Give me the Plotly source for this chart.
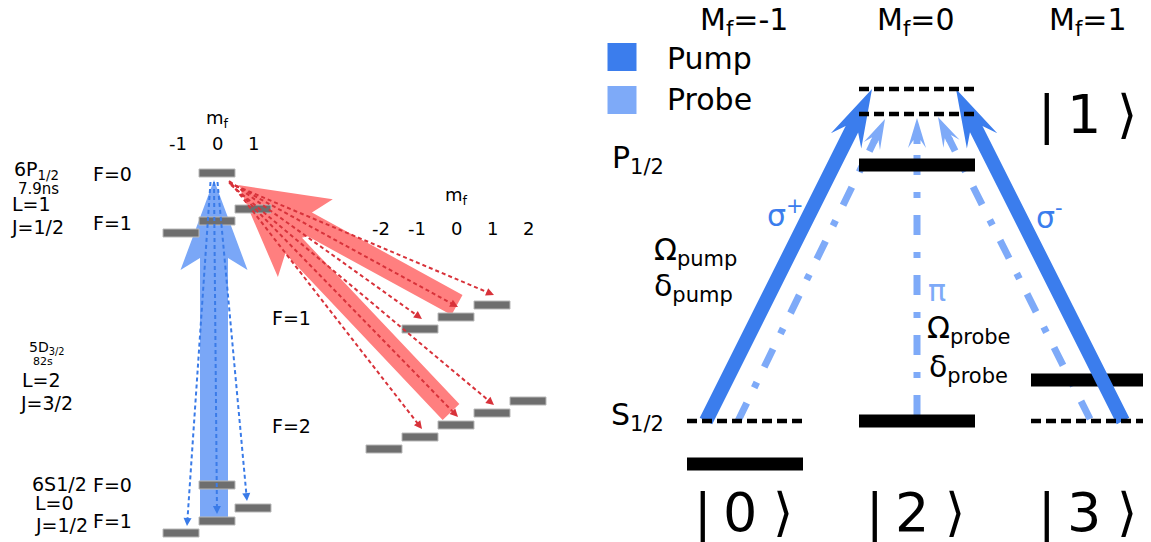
import math
import plotly.graph_objects as go

W, H = 1151, 542
PAD = 8  # default page body margin of the html page
FONT = "DejaVu Sans"

# ---------------- data: left panel (hyperfine levels: m_F and level height) -------------
P_F0_m = [0];            P_F0_y = [173]
P_F1_m = [-1, 0, 1];     P_F1_y = [233, 221, 209]
S_F0_m = [0];            S_F0_y = [485]
S_F1_m = [-1, 0, 1];     S_F1_y = [533, 521, 508]
D_F1_m = [-1, 0, 1];     D_F1_y = [329, 317, 305]
D_F2_m = [-2, -1, 0, 1, 2]; D_F2_y = [449, 437, 425, 413, 401]
mf_ticks_PS = ["-1", "0", "1"]
mf_ticks_D = ["-2", "-1", "0", "1", "2"]
decay_targets_m = [-1, 0, 1]

# ---------------- data: right panel -------------
col_labels = ["M<sub>f</sub>=-1", "M<sub>f</sub>=0", "M<sub>f</sub>=1"]
ket_labels = ["0", "2", "3"]
state_col = [0, 1, 2]          # |0>, |2>, |3>
state_y = [464, 421, 380]
P_bar_y = 165
S_virtual_y = 421
top_virtual_y = [89, 114]
# transitions: (from col, from y, to col, to y, x offset at tail, x offset at tip)
pump_trans = [(0, 421, 1, 89, -39, -45), (2, 421, 1, 89, 34, 39)]
probe_trans = [(0, 421, 1, 119, -7, -32), (1, 415, 1, 118, 0, 0), (2, 419, 1, 117, 1, 21)]

# ---------------- styles / layout constants -------------
X0_PS, X0_D, DM = 217, 456, 36
COLX = [745, 917, 1089]
GRAY = "#6e6e6e"
RED_FILL = "#ff7f7f"
RED_DASH = "#d8323a"
BLUE_FILL = "#7aa7f7"
BLUE_DASH = "#3a7be8"
PUMP = "#3b7ded"
PROBE = "#7eaaf8"

fig = go.Figure()


def poly(pts, color, line_color=None, lw=0):
    xs = [p[0] for p in pts] + [pts[0][0]]
    ys = [p[1] for p in pts] + [pts[0][1]]
    fig.add_trace(go.Scatter(x=xs, y=ys, mode="lines", fill="toself", fillcolor=color,
                             line=dict(width=lw, color=line_color or color), hoverinfo="skip"))


def arrow_pts(x0, y0, x1, y1, shw, hl, hhw, notch):
    L = math.hypot(x1 - x0, y1 - y0)
    ux, uy = (x1 - x0) / L, (y1 - y0) / L
    nx, ny = -uy, ux
    def P(a, p):  # a: distance back from tip, p: perpendicular
        return (x1 - ux * a + nx * p, y1 - uy * a + ny * p)
    return [P(L, shw), P(notch, shw), P(hl, hhw), (x1, y1), P(hl, -hhw), P(notch, -shw), P(L, -shw)]


def dashed_arrow(x0, y0, x1, y1, color, width, dash, hl, hhw, notch=None):
    L = math.hypot(x1 - x0, y1 - y0)
    ux, uy = (x1 - x0) / L, (y1 - y0) / L
    nx, ny = -uy, ux
    bx, by = x1 - ux * hl * 0.8, y1 - uy * hl * 0.8
    fig.add_trace(go.Scatter(x=[x0, bx], y=[y0, by], mode="lines",
                             line=dict(color=color, width=width, dash=dash), hoverinfo="skip"))
    if notch is None:
        pts = [(x1, y1), (x1 - ux * hl + nx * hhw, y1 - uy * hl + ny * hhw),
               (x1 - ux * hl - nx * hhw, y1 - uy * hl - ny * hhw)]
    else:
        sw = width / 2
        def P(a, p):
            return (x1 - ux * a + nx * p, y1 - uy * a + ny * p)
        pts = [P(notch + 4, sw), P(notch, sw), P(hl, hhw), (x1, y1), P(hl, -hhw), P(notch, -sw), P(notch + 4, -sw)]
    poly(pts, color)


def bar(xc, yc, w, h, color, edge=None):
    poly([(xc - w / 2, yc - h / 2), (xc + w / 2, yc - h / 2), (xc + w / 2, yc + h / 2), (xc - w / 2, yc + h / 2)],
         color, line_color=edge, lw=1 if edge else 0)


def hline(x0, x1, y, color, width, dash="solid"):
    fig.add_trace(go.Scatter(x=[x0, x1], y=[y, y], mode="lines",
                             line=dict(color=color, width=width, dash=dash), hoverinfo="skip"))


ann = []


def txt(x, y, s, size, color="black", xanchor="left"):
    ann.append(dict(x=x, y=y, text=s, showarrow=False, xanchor=xanchor, yanchor="middle",
                    font=dict(family=FONT, size=size, color=color)))


# ================= LEFT PANEL =================
px = lambda m: X0_PS + DM * m
dx = lambda m: X0_D + DM * m

d1 = dict(zip(D_F1_m, D_F1_y)); d2 = dict(zip(D_F2_m, D_F2_y))
poly(arrow_pts(dx(0) + 1, d1[0] - 12, 238, 185, 11.5, 90, 33, 78), RED_FILL)
poly(arrow_pts(dx(0) - 5, d2[0] - 13, 240, 189, 11.5, 90, 33, 78), RED_FILL)
s1 = dict(zip(S_F1_m, S_F1_y))
poly(arrow_pts(px(0) - 3, s1[0] - 1, px(0) - 3, 180, 14, 90, 33.5, 78), BLUE_FILL)

for ms, ys, xf in [(P_F0_m, P_F0_y, px), (P_F1_m, P_F1_y, px), (S_F0_m, S_F0_y, px),
                   (S_F1_m, S_F1_y, px), (D_F1_m, D_F1_y, dx), (D_F2_m, D_F2_y, dx)]:
    for m, y in zip(ms, ys):
        bar(xf(m), y, DM, 8, GRAY, edge="#b8b8b8")

for m in decay_targets_m:
    dashed_arrow(px(0) - 3 + 3.5 * m, 182, px(m) - 6 * m, s1[m] - 7, BLUE_DASH, 2, "4px,3px", 8, 4)
for m in decay_targets_m:
    dashed_arrow(229, 182 + m, dx(m) + 2, d1[m] - 10, RED_DASH, 2, "4px,3px", 8, 4)
    dashed_arrow(231, 184 + m, dx(m) + 2, d2[m] - 8, RED_DASH, 2, "4px,3px", 8, 4)

LS = 19
txt(px(0), 119, "m<sub>f</sub>", 18, xanchor="center")
for m, t in zip([-1, 0, 1], mf_ticks_PS):
    txt(px(m) - (3 if m == -1 else 0), 143, t, 18, xanchor="center")
txt(dx(0), 196, "m<sub>f</sub>", 18, xanchor="center")
for m, t in zip(D_F2_m, mf_ticks_D):
    txt(dx(m) - 3 * (m < 0), 228, t, 18, xanchor="center")
txt(12, 170, "6P<sub>1/2</sub>", LS)
txt(16, 189, "7.9ns", 15)
txt(10, 204, "L=1", LS)
txt(8.5, 227, "J=1/2", LS)
txt(91, 174, "F=0", LS)
txt(91, 223, "F=1", LS)
txt(27, 348, "5D<sub>3/2</sub>", 14)
txt(31, 361, "82s", 11)
txt(20, 380, "L=2", LS)
txt(18, 403, "J=3/2", LS)
txt(30, 484, "6S1/2", LS)
txt(33, 503, "L=0", LS)
txt(33, 525, "J=1/2", LS)
txt(91, 485, "F=0", LS)
txt(91, 521, "F=1", LS)
txt(270, 318, "F=1", LS)
txt(270, 426, "F=2", LS)

# ================= RIGHT PANEL =================
BW, BH = 116, 13
for c0, y0, c1, y1, o0, o1 in probe_trans:
    dashed_arrow(COLX[c0] + o0, y0, COLX[c1] + o1, y1, PROBE, 7, "20px,17px,6px,17px", 30, 9, notch=22)

for c, y in zip(state_col, state_y):
    bar(COLX[c], y, BW, BH, "black")
bar(COLX[1], P_bar_y, BW, BH, "black")

for c0, y0, c1, y1, o0, o1 in pump_trans:
    poly(arrow_pts(COLX[c0] + o0, y0, COLX[c1] + o1, y1, 7, 58, 17, 45), PUMP)

for c in (0, 2):
    hline(COLX[c] - BW / 2, COLX[c] + BW / 2, S_virtual_y, "black", 4.5, "10px,5px")
for y in top_virtual_y:
    hline(COLX[1] - BW / 2, COLX[1] + BW / 2, y, "black", 4.5, "10px,5px")

RS = 30
bar(622, 57, 29, 28, PUMP)
bar(622, 100, 29, 28, PROBE)
txt(665, 58, "Pump", RS)
txt(665, 99, "Probe", RS)

for c, lab in zip(range(3), col_labels):
    txt(COLX[c] - 1, 21, lab, RS, xanchor="center")

txt(610, 159, "P<sub>1/2</sub>", RS)
txt(609, 416, "S<sub>1/2</sub>", RS)
txt(652, 251, "Ω<sub>pump</sub>", RS)
txt(652, 287, "δ<sub>pump</sub>", RS)
txt(765, 213, "σ<sup>+</sup>", RS, color=PUMP)
txt(1034, 215, "σ<sup>-</sup>", RS, color=PUMP)
txt(926, 290, "π", RS, color=PROBE)
txt(925, 329, "Ω<sub>probe</sub>", RS)
txt(927, 368, "δ<sub>probe</sub>", RS)

for c, k in zip(state_col, ket_labels):
    txt(COLX[c] - 53, 512, "|", 52)
    txt(COLX[c] - 5, 512, k, 54, xanchor="center")
    txt(COLX[c] + 38, 512, "⟩", 52, xanchor="center")
txt(COLX[2] - 53, 114, "|", 52)
txt(COLX[2] - 5, 114, "1", 54, xanchor="center")
txt(COLX[2] + 38, 114, "⟩", 52, xanchor="center")

fig.update_layout(
    width=W - PAD, height=H - PAD, margin=dict(l=0, r=0, t=0, b=0),
    paper_bgcolor="white", plot_bgcolor="white", showlegend=False,
    xaxis=dict(range=[PAD, W], visible=False, fixedrange=True),
    yaxis=dict(range=[H, PAD], visible=False, fixedrange=True),
    annotations=ann,
)
fig.write_html("out.html")
